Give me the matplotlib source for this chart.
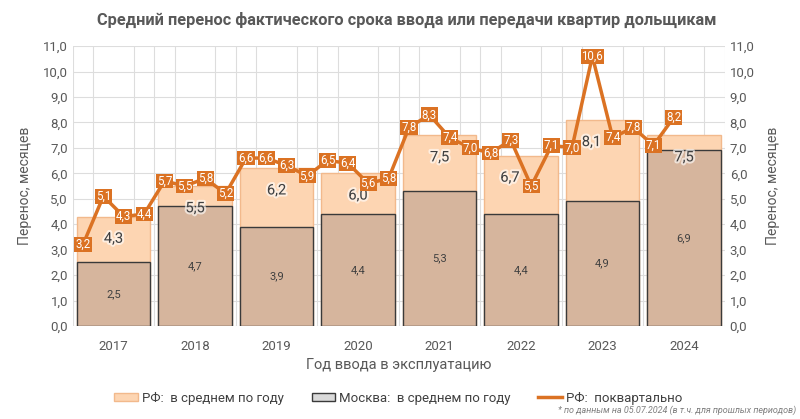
import matplotlib.pyplot as plt
import matplotlib.patheffects as pe
import numpy as np
from matplotlib.lines import Line2D
from matplotlib.patches import Patch

plt.rcParams['font.family'] = ['Roboto', 'DejaVu Sans']

years = ["2017", "2018", "2019", "2020", "2021", "2022", "2023", "2024"]
rf_year = [4.3, 5.5, 6.2, 6.0, 7.5, 6.7, 8.1, 7.5]
msk_year = [2.5, 4.7, 3.9, 4.4, 5.3, 4.4, 4.9, 6.9]
rf_quarter = [3.2, 5.1, 4.3, 4.4,
              5.7, 5.5, 5.8, 5.2,
              6.6, 6.6, 6.3, 5.9,
              6.5, 6.4, 5.6, 5.8,
              7.8, 8.3, 7.4, 7.0,
              6.8, 7.3, 5.5, 7.1,
              7.0, 10.6, 7.4, 7.8,
              7.1, 8.2]

c_rf_bar = "#FDD5B2"
c_rf_edge = "#F2B98C"
c_msk_bar = "#D6B59D"
c_line = "#DB7223"
c_text = "#404040"


def fmt(v):
    return f"{v:.1f}".replace(".", ",")


fig = plt.figure(figsize=(8, 4.19), dpi=100)
ax = fig.add_axes([0.091, 0.222, 0.815, 0.668])

x = np.arange(len(years))
w = 0.9
ax.bar(x, rf_year, width=w, color=c_rf_bar, edgecolor=c_rf_edge, linewidth=1, zorder=2)
ax.bar(x, msk_year, width=w, color=c_msk_bar, edgecolor="#3A3A3A", linewidth=1, zorder=3)

# подписи 2022 и 2023 чуть сдвинуты влево, чтобы не налезать на квартальные
shift = [0, 0, 0, 0, 0, -8, -8, 0]
for i, v in enumerate(rf_year):
    ax.annotate(fmt(v), (x[i], v), xytext=(shift[i], -16), textcoords="offset points",
                ha="center", va="center", fontsize=10.5, color=c_text, zorder=4,
                path_effects=[pe.withStroke(linewidth=3, foreground="white", alpha=0.6)])
for i, v in enumerate(msk_year):
    ax.text(x[i], v / 2, fmt(v), ha="center", va="center", fontsize=8, color=c_text, zorder=4)

xq = np.array([i - 0.5 + (q + 0.5) / 4 for i in range(len(years)) for q in range(4)])[:len(rf_quarter)]
ax.plot(xq, rf_quarter, color=c_line, linewidth=2.5, zorder=5)
for xi, v in zip(xq, rf_quarter):
    ax.text(xi, v, fmt(v), ha="center", va="center", fontsize=8.3, color="white", zorder=6,
            bbox=dict(boxstyle="square,pad=0.08", facecolor=c_line, edgecolor="none"))

ax.set_xlim(-0.5, len(years) - 0.5)
ax.set_ylim(0, 11)
ax.set_yticks(np.arange(0, 11.5, 1.0))
ax.set_yticklabels([fmt(v) for v in np.arange(0, 11.5, 1.0)])
ax.set_xticks(x)
ax.set_xticklabels(years)
ax.set_xticks(np.arange(-0.5, len(years) - 0.4, 0.25), minor=True)
ax.grid(True, axis="y", color="#DDDDDD", linewidth=0.8, zorder=0)
ax.grid(True, axis="x", which="minor", color="#DDDDDD", linewidth=0.8, zorder=0)
ax.set_axisbelow(True)
ax.tick_params(axis="both", which="both", length=0, colors="#595959", labelsize=9.5)
ax.tick_params(axis="x", pad=10)
for s in ax.spines.values():
    s.set_visible(False)
ax.set_ylabel("Перенос, месяцев", fontsize=10, color="#595959", labelpad=8)
ax.set_xlabel("Год ввода в эксплуатацию", fontsize=10.5, color="#595959", labelpad=4)

ax2 = ax.twinx()
ax2.set_ylim(0, 11)
ax2.set_yticks(np.arange(0, 11.5, 1.0))
ax2.set_yticklabels([fmt(v) for v in np.arange(0, 11.5, 1.0)])
ax2.tick_params(axis="y", length=0, colors="#595959", labelsize=9.5)
for s in ax2.spines.values():
    s.set_visible(False)
ax2.set_ylabel("Перенос, месяцев", fontsize=10, color="#595959", labelpad=8)

fig.text(0.509, 0.952, "Средний перенос фактического срока ввода или передачи квартир дольщикам",
         ha="center", va="center", fontsize=11.8, fontweight="bold", color="#595959")

handles = [Patch(facecolor=c_rf_bar, edgecolor=c_rf_edge, label="РФ:  в среднем по году"),
           Patch(facecolor="#D9D9D9", edgecolor="#3A3A3A", label="Москва:  в среднем по году"),
           Line2D([0], [0], color=c_line, linewidth=2.5, label="РФ:  поквартально")]
fig.legend(handles=handles, loc="center", bbox_to_anchor=(0.498, 0.05), ncol=3, frameon=False,
           fontsize=9.5, handlelength=1.8, handleheight=0.6, handletextpad=0.3, columnspacing=2.1,
           labelcolor="#404040")
fig.text(0.995, 0.02, "* по данным на 05.07.2024 (в т.ч. для прошлых периодов)",
         ha="right", va="center", fontsize=6.5, style="italic", color="#7F7F7F")

fig.savefig("out.png", dpi=100)
